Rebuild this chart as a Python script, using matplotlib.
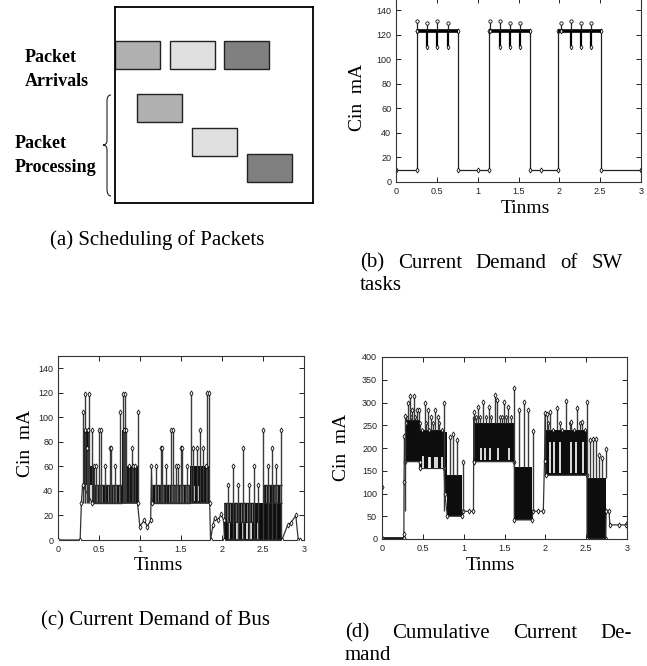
import numpy as np
import matplotlib.pyplot as plt
from matplotlib.patches import Rectangle, PathPatch
from matplotlib.path import Path

plt.rcParams['font.family'] = 'Liberation Serif'
plt.rcParams['hatch.linewidth'] = 1.7

# ---------------- data ----------------
# (a) schedule (local box units, box is 198 x 196)
arrive_x = [0, 55, 109]
arrive_y = 34
proc_x = [22, 77, 132]
proc_y = [87, 121, 147]
box_w, box_h = 45, 28
packet_colors = ['#b0b0b0', '#e0e0e0', '#808080']

x_ticks = [0, 0.5, 1, 1.5, 2, 2.5, 3]
x_tick_labels = ['0', '0.5', '1', '1.5', '2', '2.5', '3']

# (b) current demand of SW tasks
sw_on = [0.253, 1.135, 1.986]
sw_off = [0.756, 1.643, 2.513]
sw_low, sw_high = 10, 123
sw_spike_t = [0.253, 0.383, 0.506, 0.637, 1.152, 1.275, 1.400, 1.524, 2.019, 2.142, 2.268, 2.391]
sw_spike_top = [131, 130, 131, 130, 131, 131, 130, 130, 130, 131, 130, 130]
sw_spike_bot = [123, 110, 110, 110, 123, 110, 110, 110, 123, 110, 110, 110]
sw_idle_t = [0.0, 1.0, 1.77, 3.0]

# (c) current demand of bus
bus_path_t = [0.0, 0.27, 0.285, 0.30, 0.42, 0.97, 0.998, 1.05, 1.09, 1.13, 1.14, 1.15, 1.85, 1.86,
              1.89, 1.91, 1.95, 1.99, 2.02, 2.03, 2.73, 2.80, 2.84, 2.90, 2.93, 2.95]
bus_path_v = [0, 0, 30, 45, 30, 30, 11, 16, 11, 16, 60, 30, 30, 0,
              12, 18, 16, 21, 16, 0, 0, 12, 14, 20, 0, 0]
bus_band_t0 = [0.30, 0.37, 0.78, 0.78, 1.61, 2.03, 2.40]
bus_band_t1 = [0.37, 0.44, 0.84, 0.97, 1.85, 2.40, 2.73]
bus_band_lo = [45, 45, 45, 30, 30, 0, 0]
bus_band_hi = [90, 60, 90, 60, 60, 15, 30]
bus_hatch_t0 = [0.42, 1.15, 2.03, 2.50]
bus_hatch_t1 = [0.78, 1.61, 2.40, 2.73]
bus_hatch_lo = [30, 30, 15, 30]
bus_hatch_hi = [45, 45, 30, 45]
bus_gap_t = [2.08, 2.18, 2.26, 2.30, 2.35, 2.44, 1.66, 1.71]
bus_gap_lo = [1, 1, 1, 1, 1, 1, 32, 32]
bus_gap_hi = [14, 14, 14, 14, 14, 14, 44, 44]
bus_spike_t = [0.30, 0.326, 0.33, 0.35, 0.366, 0.378, 0.415, 0.44, 0.46, 0.50, 0.52, 0.578, 0.63,
               0.644, 0.70, 0.75, 0.794, 0.806, 0.82, 0.834, 0.87, 0.90, 0.92, 0.945, 0.97,
               1.20, 1.26, 1.27, 1.32, 1.38, 1.40, 1.44, 1.46, 1.498, 1.51, 1.57, 1.62, 1.65,
               1.69, 1.73, 1.77, 1.80, 1.82, 1.845,
               2.07, 2.136, 2.198, 2.26, 2.33, 2.39, 2.44, 2.503, 2.56, 2.61, 2.66, 2.72]
bus_spike_v = [104, 119, 90, 75, 90, 119, 90, 60, 60, 90, 90, 60, 75,
               75, 60, 104, 119, 90, 119, 90, 60, 75, 60, 60, 104,
               60, 75, 75, 60, 90, 90, 60, 60, 75, 75, 60, 120, 75,
               75, 90, 75, 60, 120, 120,
               45, 60, 45, 75, 45, 60, 45, 90, 60, 75, 60, 90]

# (d) cumulative current demand
cum_path_t = [0.0, 0.003, 0.265, 0.268, 0.270, 0.275, 0.28, 0.46, 0.46, 0.76, 0.77, 0.80, 0.98,
              0.997, 1.06, 1.12, 1.122, 1.127, 1.13, 1.62, 1.62, 1.84, 1.845, 1.91, 1.975, 1.99,
              2.0, 2.005, 2.51, 2.51, 2.74, 2.745, 2.78, 2.79, 2.90, 2.99, 3.0]
cum_path_v = [115, 3, 3, 11, 126, 226, 170, 170, 155, 155, 100, 50, 50,
              61, 61, 61, 172, 265, 170, 170, 42, 42, 61, 61, 61, 172,
              276, 140, 140, 0, 0, 61, 61, 31, 31, 31, 35]
cum_band_t0 = [0.0, 0.28, 0.46, 0.77, 0.80, 1.125, 1.62, 2.0, 2.51]
cum_band_t1 = [0.265, 0.46, 0.76, 0.80, 0.98, 1.62, 1.84, 2.51, 2.74]
cum_band_lo = [0, 170, 155, 100, 50, 170, 42, 140, 0]
cum_band_hi = [5, 262, 240, 235, 140, 255, 158, 240, 135]
cum_gap_t = [0.50, 0.57, 0.59, 0.65, 0.67, 0.73, 1.21, 1.26, 1.32, 1.42, 1.55,
             2.06, 2.10, 2.18, 2.31, 2.38, 2.46]
cum_gap_lo = [157, 157, 157, 157, 157, 157, 173, 173, 173, 173, 173,
              145, 145, 145, 145, 145, 145]
cum_gap_hi = [182, 180, 180, 180, 180, 180, 200, 200, 200, 200, 200,
              214, 214, 214, 214, 214, 214]
cum_spike_t = [0.277, 0.313, 0.338, 0.366, 0.387, 0.427, 0.452, 0.521, 0.558, 0.602, 0.651, 0.68,
               0.761, 0.834, 0.875, 0.924, 0.989,
               1.127, 1.18, 1.24, 1.31, 1.384, 1.404, 1.494, 1.547, 1.62, 1.677, 1.738, 1.79, 1.85,
               2.015, 2.055, 2.137, 2.259, 2.32, 2.389, 2.45, 2.511, 2.552, 2.584, 2.625, 2.658,
               2.69, 2.74]
cum_spike_v = [270, 299, 314, 284, 314, 284, 284, 299, 284, 268, 284, 268,
               299, 224, 230, 217, 170,
               279, 290, 301, 290, 316, 306, 301, 290, 332, 284, 301, 284, 238,
               275, 279, 287, 303, 257, 287, 257, 301, 217, 219, 219, 184,
               179, 197]
# short teeth along the tops of the dense blocks
cum_tooth_t = [0.29, 0.30, 0.35, 0.40, 0.47, 0.49, 0.54, 0.57, 0.62, 0.70, 0.73,
               1.15, 1.20, 1.27, 1.34, 1.44, 1.47, 1.52, 1.58,
               2.03, 2.09, 2.18, 2.21, 2.30, 2.35, 2.42, 2.48]
cum_tooth_v = [255, 265, 268, 268, 255, 240, 255, 240, 255, 255, 240,
               268, 268, 268, 268, 268, 268, 268, 268,
               255, 240, 255, 240, 255, 240, 255, 240]

# ---------------- figure ----------------
W, H = 647, 666
fig = plt.figure(figsize=(W / 100, H / 100), dpi=100)


def px_axes(left, top, right, bottom):
    return fig.add_axes([left / W, 1 - bottom / H, (right - left) / W, (bottom - top) / H])


def px_text(x, y, s, **kw):
    return fig.text(x / W, 1 - y / H, s, **kw)


def frame(ax, ymax, yticks):
    ax.set_xlim(0, 3)
    ax.set_ylim(0, ymax)
    ax.set_xticks(x_ticks)
    ax.set_xticklabels(x_tick_labels)
    ax.set_yticks(yticks)
    ax.tick_params(direction='in', top=True, right=True, length=3.5, width=0.6,
                   labelsize=6.5, pad=3.5, labelcolor='#222')
    for lab in ax.get_xticklabels() + ax.get_yticklabels():
        lab.set_family('Liberation Sans')
    for s in ax.spines.values():
        s.set_linewidth(0.8)
        s.set_color('#333')


def bands(ax, t0, t1, lo, hi, hatch=None):
    for a, b, l, h in zip(t0, t1, lo, hi):
        if hatch:
            ax.fill_between([a, b], l, h, facecolor='none', edgecolor='#111',
                            hatch=hatch, linewidth=0)
            ax.hlines([l, h], a, b, color='#222', lw=1.0)
        else:
            ax.fill_between([a, b], l, h, color='#0d0d0d', linewidth=0)


def spikes(ax, t, top, base, ms=2.6):
    ax.vlines(t, base, top, color='#3a3a3a', lw=1.0)
    ax.plot(t, top, ls='none', marker='d', ms=ms, mfc='white', mec='#111', mew=0.6)


# overlay for the brace
ov = fig.add_axes([0, 0, 1, 1])
ov.set_xlim(0, W)
ov.set_ylim(H, 0)
ov.axis('off')
brace = Path([(111, 95), (107, 95), (107, 101), (107, 140), (107, 145), (103, 145),
              (107, 145), (107, 150), (107, 189), (107, 196), (111, 196)],
             [Path.MOVETO, Path.CURVE3, Path.CURVE3, Path.LINETO, Path.CURVE3, Path.CURVE3,
              Path.CURVE3, Path.CURVE3, Path.LINETO, Path.CURVE3, Path.CURVE3])
ov.add_patch(PathPatch(brace, fc='none', ec='#222', lw=0.8))

# (a)
axa = px_axes(115, 7, 313, 203)
axa.set_xlim(0, 198)
axa.set_ylim(196, 0)
axa.set_xticks([])
axa.set_yticks([])
for s in axa.spines.values():
    s.set_linewidth(1.3)
for x0, c in zip(arrive_x, packet_colors):
    axa.add_patch(Rectangle((x0, arrive_y), box_w, box_h, fc=c, ec='#222', lw=1))
for x0, y0, c in zip(proc_x, proc_y, packet_colors):
    axa.add_patch(Rectangle((x0, y0), box_w, box_h, fc=c, ec='#222', lw=1))
side = dict(ha='left', va='center', fontsize=13, fontweight='bold')
px_text(25, 57, 'Packet', **side)
px_text(25, 81, 'Arrivals', **side)
px_text(15, 143, 'Packet', **side)
px_text(15, 168, 'Processing', **side)

# (b)
axb = px_axes(396, -2, 641, 182)
frame(axb, 150, list(range(0, 141, 20)))
bt, bv = [0.0], [sw_low]
for on, off in zip(sw_on, sw_off):
    bt += [on, on, off, off]
    bv += [sw_low, sw_high, sw_high, sw_low]
bt.append(3.0)
bv.append(sw_low)
axb.plot(bt, bv, color='#222', lw=0.9, marker='d', ms=2.6, mfc='white', mec='#111', mew=0.6)
axb.plot(sw_idle_t, [sw_low] * len(sw_idle_t), ls='none', marker='d', ms=2.6,
         mfc='white', mec='#111', mew=0.6)
axb.hlines([sw_high] * len(sw_on), sw_on, sw_off, color='black', lw=2.6)
axb.vlines(sw_spike_t, sw_high, sw_spike_top, color='#222', lw=0.9)
axb.vlines(sw_spike_t, sw_spike_bot, sw_high, color='black', lw=1.6)
axb.plot(sw_spike_t, sw_spike_top, ls='none', marker='o', ms=2.4, mfc='white', mec='#111', mew=0.6)
axb.plot(sw_spike_t, sw_spike_bot, ls='none', marker='d', ms=2.4, mfc='white', mec='#111', mew=0.6)

# (c)
axc = px_axes(58, 356, 304, 540)
frame(axc, 150, list(range(0, 141, 20)))
axc.plot(bus_path_t, bus_path_v, color='#333', lw=0.9, marker='d', ms=2.6,
         mfc='white', mec='#111', mew=0.6, zorder=3)
bands(axc, bus_hatch_t0, bus_hatch_t1, bus_hatch_lo, bus_hatch_hi, hatch='||||||')
bands(axc, bus_band_t0, bus_band_t1, bus_band_lo, bus_band_hi)
axc.vlines(bus_gap_t, bus_gap_lo, bus_gap_hi, color='white', lw=1.2)
bus_base = [30 if t < 2 else 0 for t in bus_spike_t]
spikes(axc, bus_spike_t, bus_spike_v, bus_base)

# (d)
axd = px_axes(382, 357, 627, 539)
frame(axd, 400, list(range(0, 401, 50)))
axd.plot(cum_path_t, cum_path_v, color='#333', lw=0.9, marker='d', ms=2.6,
         mfc='white', mec='#111', mew=0.6)
bands(axd, cum_band_t0, cum_band_t1, cum_band_lo, cum_band_hi)
axd.vlines(cum_gap_t, cum_gap_lo, cum_gap_hi, color='white', lw=1.2)


def band_top(t, default=61):
    base = default
    for a, b, h in zip(cum_band_t0, cum_band_t1, cum_band_hi):
        if a <= t <= b:
            base = h
    return base


spikes(axd, cum_tooth_t, cum_tooth_v, [band_top(t) for t in cum_tooth_t], ms=2.2)
spikes(axd, cum_spike_t, cum_spike_v, [band_top(t) for t in cum_spike_t])

# axis labels
lab = dict(fontsize=14, ha='center', va='center')
px_text(357, 97, 'Cin  mA', rotation=90, **lab)
px_text(525, 208, 'Tinms', **lab)
px_text(25, 443, 'Cin  mA', rotation=90, **lab)
px_text(158, 565, 'Tinms', **lab)
px_text(342, 447, 'Cin  mA', rotation=90, **lab)
px_text(490, 565, 'Tinms', **lab)


# captions
def justified(words, x0, x1, y, size=15):
    r = fig.canvas.get_renderer()
    texts = [px_text(0, y, w, fontsize=size, va='center', ha='left') for w in words]
    widths = [t.get_window_extent(r).width for t in texts]
    gap = (x1 - x0 - sum(widths)) / (len(words) - 1)
    x = x0
    for t, w in zip(texts, widths):
        t.set_position((x / W, 1 - y / H))
        x += w + gap


cap = dict(va='center', fontsize=15)
px_text(157, 240, '(a) Scheduling of Packets', ha='center', **cap)
justified(['(b)', 'Current', 'Demand', 'of', 'SW'], 360, 623, 263)
px_text(360, 286, 'tasks', ha='left', **cap)
px_text(41, 621, '(c) Current Demand of Bus', ha='left', **cap)
justified(['(d)', 'Cumulative', 'Current', 'De-'], 345, 632, 633)
px_text(345, 656, 'mand', ha='left', **cap)

fig.savefig('out.png', dpi=100)
